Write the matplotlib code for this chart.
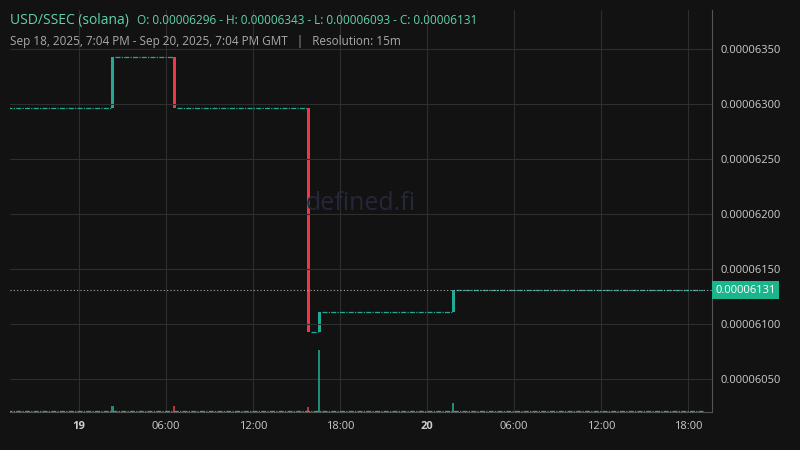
import matplotlib.pyplot as plt
from datetime import datetime

plt.rcParams['font.family'] = ['Open Sans', 'DejaVu Sans']

# flat price levels (start, end, price)
flat_starts = ["2025-09-18 19:04", "2025-09-19 02:30", "2025-09-19 06:45", "2025-09-19 16:00", "2025-09-19 16:45", "2025-09-20 02:00"]
flat_ends = ["2025-09-19 02:15", "2025-09-19 06:30", "2025-09-19 15:45", "2025-09-19 16:30", "2025-09-20 01:45", "2025-09-20 19:04"]
flat_prices = [6.296e-5, 6.343e-5, 6.296e-5, 6.093e-5, 6.111e-5, 6.131e-5]

# candles that moved
move_times = ["2025-09-19 02:15", "2025-09-19 06:30", "2025-09-19 15:45", "2025-09-19 16:30", "2025-09-20 01:45"]
move_open = [6.296e-5, 6.343e-5, 6.296e-5, 6.093e-5, 6.111e-5]
move_close = [6.343e-5, 6.296e-5, 6.093e-5, 6.111e-5, 6.131e-5]
move_volume = [6, 6, 5, 62, 9]

last_price = 6.131e-5
GREEN = '#22ab94'
RED = '#f23645'
BG = '#121212'

def t(s):
    return datetime.strptime(s, "%Y-%m-%d %H:%M")

fig = plt.figure(figsize=(8, 4.5), dpi=100, facecolor=BG)
ax = fig.add_axes([0.0125, 0.084, 0.8775, 0.894], facecolor=BG)
vax = ax.twinx()
vax.set_ylim(0, 400)
vax.axis('off')

for s, e, p in zip(flat_starts, flat_ends, flat_prices):
    ax.hlines(p, t(s), t(e), colors=GREEN, linewidth=0.9, linestyles=(0, (4, 1, 1, 1)))
w = 15 / 1440
for tm, o, c, v in zip(move_times, move_open, move_close, move_volume):
    col = GREEN if c >= o else RED
    ax.bar(t(tm), c - o, bottom=o, width=w * 0.8, color=col, align='edge')
    vax.bar(t(tm), v, width=w * 0.6, color=col, alpha=0.8, align='edge')
vax.hlines(1, t(flat_starts[0]), t(flat_ends[-1]), colors=GREEN, linewidth=0.9, linestyles=(0, (4, 1, 1, 1)))

ax.axhline(last_price, color='#aaaaaa', linestyle=(0, (1, 2)), linewidth=0.8)
ax.text(1.005, last_price, f"{last_price:.8f}", transform=ax.get_yaxis_transform(),
        va='center', ha='left', fontsize=8, color='white',
        bbox=dict(boxstyle='square,pad=0.3', fc='#1bb58c', ec='none'))

ax.set_xlim(t("2025-09-18 19:15"), t("2025-09-20 19:40"))
ax.set_ylim(6.0200e-5, 6.3855e-5)
ax.yaxis.tick_right()
ax.set_yticks([6.05e-5, 6.10e-5, 6.15e-5, 6.20e-5, 6.25e-5, 6.30e-5, 6.35e-5])
ax.yaxis.set_major_formatter(plt.FuncFormatter(lambda v, p: f"{v:.8f}"))
ticks = [t("2025-09-19 00:00"), t("2025-09-19 06:00"), t("2025-09-19 12:00"), t("2025-09-19 18:00"),
         t("2025-09-20 00:00"), t("2025-09-20 06:00"), t("2025-09-20 12:00"), t("2025-09-20 18:00")]
labels = ["19", "06:00", "12:00", "18:00", "20", "06:00", "12:00", "18:00"]
ax.set_xticks(ticks)
ax.set_xticklabels(labels)
for lbl in ax.get_xticklabels():
    if lbl.get_text() in ("19", "20"):
        lbl.set_fontweight('bold')
ax.tick_params(colors='#cccccc', labelsize=8, length=0, pad=6)
ax.grid(True, color='#2e2e2e', linewidth=0.8)
for sp in ax.spines.values():
    sp.set_visible(False)
ax.spines['right'].set_visible(True)
ax.spines['right'].set_color('#555555')
ax.spines['bottom'].set_visible(True)
ax.spines['bottom'].set_color('#555555')

ax.text(0.5, 0.52, "defined.fi", transform=ax.transAxes, ha='center', va='center',
        fontsize=18, color='#26263a')
fig.text(0.0125, 0.955, "USD/SSEC (solana)", color='#5fd3b0', fontsize=10, va='center')
fig.text(0.171, 0.955, "O: 0.00006296 - H: 0.00006343 - L: 0.00006093 - C: 0.00006131",
         color='#5fd3b0', fontsize=8.5, va='center')
fig.text(0.0125, 0.908, "Sep 18, 2025, 7:04 PM - Sep 20, 2025, 7:04 PM GMT   |   Resolution: 15m",
         color='#aaaaaa', fontsize=8.5, va='center')

fig.savefig("out.png", dpi=100, facecolor=BG)
